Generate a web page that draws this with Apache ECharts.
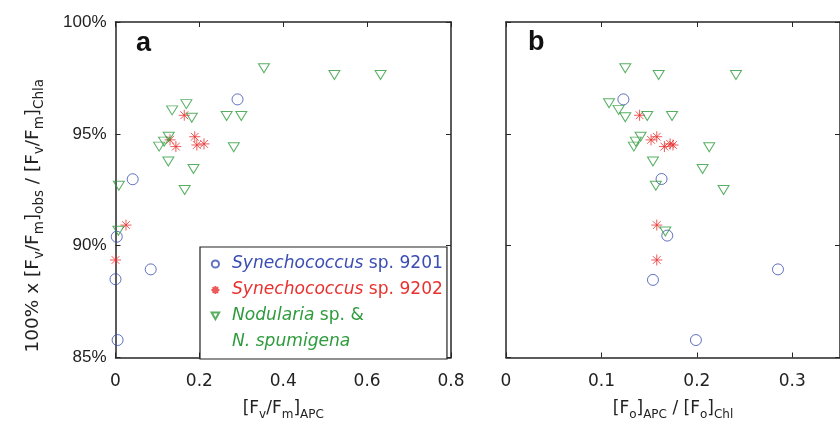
<!DOCTYPE html>
<html><head><meta charset="utf-8">
<script src="https://cdn.jsdelivr.net/npm/echarts@6/dist/echarts.min.js"></script>
<style>html,body{margin:0;padding:0;background:#fff}#c{width:840px;height:427px}</style>
</head><body><div id="c"></div>
<script>
// ---- data ----
const yTicksA = [85, 90, 95, 100];
const xTicksA = [0, 0.2, 0.4, 0.6, 0.8];
const xTicksB = [0, 0.1, 0.2, 0.3];

const blueAx = [0.291, 0.041, 0.003, 0.084, 0.000, 0.005];
const blueAy = [96.54, 92.97, 90.40, 88.94, 88.50, 85.78];
const redAx = [0.164, 0.130, 0.144, 0.189, 0.194, 0.211, 0.025, 0.000];
const redAy = [95.83, 94.73, 94.43, 94.87, 94.50, 94.55, 90.92, 89.36];
const greenAx = [0.354, 0.522, 0.632, 0.169, 0.135, 0.182, 0.265, 0.300, 0.127, 0.116, 0.104, 0.282, 0.126, 0.186, 0.008, 0.165, 0.007];
const greenAy = [97.93, 97.63, 97.63, 96.33, 96.05, 95.72, 95.80, 95.80, 94.87, 94.65, 94.43, 94.40, 93.76, 93.43, 92.68, 92.49, 90.67];

const blueBx = [0.123, 0.163, 0.169, 0.285, 0.154, 0.199];
const blueBy = [96.54, 92.98, 90.45, 88.94, 88.47, 85.78];
const redBx = [0.140, 0.152, 0.166, 0.158, 0.175, 0.172, 0.158, 0.158];
const redBy = [95.83, 94.73, 94.43, 94.87, 94.50, 94.55, 90.92, 89.36];
const greenBx = [0.125, 0.160, 0.241, 0.108, 0.118, 0.125, 0.148, 0.174, 0.141, 0.136, 0.134, 0.213, 0.154, 0.206, 0.157, 0.228, 0.167];
const greenBy = [97.93, 97.63, 97.63, 96.37, 96.07, 95.74, 95.80, 95.80, 94.87, 94.65, 94.43, 94.40, 93.76, 93.43, 92.68, 92.49, 90.63];

// ---- style ----
const BLUE = '#3a4db2', RED = '#e8312f', GREEN = '#2e9b3c';
const FONT = 'Liberation Sans';
const WFONT = 'DejaVu Sans';
const AX = '#262626';
const STAR = 'path://M0,-1L0,1M-1,0L1,0M-0.7071,-0.7071L0.7071,0.7071M-0.7071,0.7071L0.7071,-0.7071';
// legend icons drawn in a 22x10 box (anchor moves fix the box)
const ICON_CIRCLE = 'path://M0,0M22,10M14,5A3.6,3.6,0,1,1,6.8,5A3.6,3.6,0,1,1,14,5Z';
const ICON_STAR = 'path://M0,0M22,10M10.4,1L10.4,9M6.4,5L14.4,5M7.6,2.2L13.2,7.8M7.6,7.8L13.2,2.2';
const ICON_TRI = 'path://M0,0M22,10M6.6,1.5L14.2,1.5L10.4,8.2Z';

const zip = (xs, ys) => xs.map((x, i) => [x, ys[i]]);

function richSet(ff, big, small, shift) {
  return {
    n: {fontFamily: ff, fontSize: big, color: '#222', verticalAlign: 'middle', lineHeight: big + 6},
    s: {fontFamily: ff, fontSize: small, color: '#222', verticalAlign: 'middle', padding: [shift * 2, 0, 0, 0], lineHeight: big + 6}
  };
}

function xAxisPair(gi, max, ticks, name) {
  const base = {
    type: 'value', gridIndex: gi, min: 0, max: max,
    axisLine: {show: true, onZero: false, lineStyle: {color: AX, width: 1.5}},
    axisTick: {show: true, inside: true, length: 5, customValues: ticks, lineStyle: {color: AX, width: 1}},
    splitLine: {show: false}
  };
  return [
    Object.assign({}, base, {
      position: 'bottom',
      axisLabel: {show: true, customValues: ticks, margin: 16, fontFamily: WFONT, fontSize: 17, color: '#222',
        formatter: v => String(+v.toFixed(2))},
      name: name, nameLocation: 'middle', nameGap: 40,
      nameTextStyle: {rich: richSet(WFONT, 17, 12, 6)}
    }),
    Object.assign({}, base, {position: 'top', axisLabel: {show: false}})
  ];
}
function yAxisPair(gi, showLabels, name) {
  const base = {
    type: 'value', gridIndex: gi, min: 85, max: 100, interval: 5,
    axisLine: {show: true, onZero: false, lineStyle: {color: AX, width: 1.5}},
    axisTick: {show: true, inside: true, length: 5, customValues: yTicksA, lineStyle: {color: AX, width: 1}},
    splitLine: {show: false}
  };
  const left = Object.assign({}, base, {
    position: 'left',
    axisLabel: {show: showLabels, customValues: yTicksA, margin: 9, fontFamily: FONT, fontSize: 17, color: '#222', formatter: v => v + '%'}
  });
  if (name) {
    left.name = name; left.nameLocation = 'middle'; left.nameRotate = 90; left.nameGap = 70;
    left.nameTextStyle = {rich: richSet(WFONT, 18.5, 13.5, 6.5), padding: [0, 52, 0, 0]};
  }
  return [left, Object.assign({}, base, {position: 'right', axisLabel: {show: false}})];
}

const xa = xAxisPair(0, 0.8, xTicksA, '{n|[F}{s|v}{n|/F}{s|m}{n|]}{s|APC}');
const xb = xAxisPair(1, 0.35, xTicksB, '{n|[F}{s|o}{n|]}{s|APC}{n| / [F}{s|o}{n|]}{s|Chl}');
const ya = yAxisPair(0, true, '{n|100% x [F}{s|v}{n|/F}{s|m}{n|]}{s|obs}{n| / [F}{s|v}{n|/F}{s|m}{n|]}{s|Chla}');
const yb = yAxisPair(1, false, null);

function sc(name, xi, yi, data, kind) {
  const s = {type: 'scatter', name: name, xAxisIndex: xi, yAxisIndex: yi, data: data, z: 3,
    itemStyle: {color: 'rgba(0,0,0,0)', borderWidth: 1}, emphasis: {disabled: true}};
  if (kind === 'b') { s.symbol = 'circle'; s.symbolSize = 11; s.itemStyle.borderColor = BLUE; }
  if (kind === 'r') { s.symbol = STAR; s.symbolSize = 11; s.itemStyle.borderColor = RED; }
  if (kind === 'g') { s.symbol = 'triangle'; s.symbolRotate = 180; s.symbolSize = [11, 9]; s.itemStyle.borderColor = GREEN; }
  return s;
}

const NAME_B = 'Synechococcus sp. 9201', NAME_R = 'Synechococcus sp. 9202', NAME_G = 'Nodularia sp. &', NAME_G2 = 'N. spumigena';

const legendText = {
  [NAME_B]: '{bi|Synechococcus}{bn| sp. 9201}',
  [NAME_R]: '{ri|Synechococcus}{rn| sp. 9202}',
  [NAME_G]: '{gi|Nodularia}{gn| sp. &}',
  [NAME_G2]: '{gi|N. spumigena}'
};
const LF = 17.1;
const mk = (c, it) => ({fontFamily: WFONT, fontSize: LF, color: c, fontStyle: it ? 'italic' : 'normal', lineHeight: 20});

const option = {
  animation: false,
  backgroundColor: '#fff',
  grid: [
    {left: 115.5, top: 22, width: 335.5, height: 335.5},
    {left: 506, top: 22, right: 0, height: 335.5}
  ],
  xAxis: [xa[0], xa[1], xb[0], xb[1]],
  yAxis: [ya[0], ya[1], yb[0], yb[1]],
  legend: {
    orient: 'vertical', left: 200, top: 247,
    padding: [7, 4, 7, 4], itemGap: 6, itemWidth: 22, itemHeight: 10,
    backgroundColor: '#fff', borderColor: '#222', borderWidth: 1.2,
    selectedMode: false, z: 10,
    data: [
      {name: NAME_B, icon: ICON_CIRCLE},
      {name: NAME_R, icon: ICON_STAR},
      {name: NAME_G, icon: ICON_TRI},
      {name: NAME_G2, icon: 'none'}
    ],
    formatter: n => legendText[n],
    textStyle: {fontFamily: WFONT, fontSize: LF, lineHeight: 20, rich: {
      bi: mk(BLUE, true), bn: mk(BLUE, false),
      ri: mk(RED, true), rn: mk(RED, false),
      gi: mk(GREEN, true), gn: mk(GREEN, false)
    }}
  },
  series: [
    sc(NAME_B, 0, 0, zip(blueAx, blueAy), 'b'),
    sc(NAME_R, 0, 0, zip(redAx, redAy), 'r'),
    sc(NAME_G, 0, 0, zip(greenAx, greenAy), 'g'),
    sc(NAME_G2, 0, 0, [], 'g'),
    sc(NAME_B, 2, 2, zip(blueBx, blueBy), 'b'),
    sc(NAME_R, 2, 2, zip(redBx, redBy), 'r'),
    sc(NAME_G, 2, 2, zip(greenBx, greenBy), 'g')
  ],
  graphic: [
    {type: 'text', left: 136, top: 30, style: {text: 'a', font: 'bold 27px "Liberation Sans"', fill: '#111'}},
    {type: 'text', left: 528, top: 29, style: {text: 'b', font: 'bold 27px "Liberation Sans"', fill: '#111'}}
  ]
};
const chart = echarts.init(document.getElementById('c'), null, {renderer: 'canvas'});
chart.setOption(option);
</script></body></html>
